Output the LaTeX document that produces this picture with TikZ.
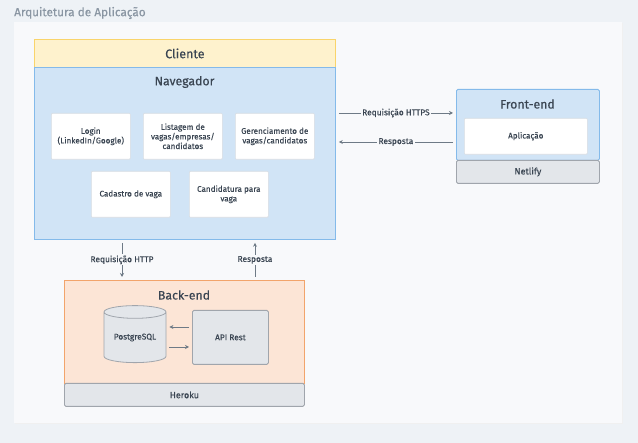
\documentclass[tikz,border=0pt]{standalone}
\usepackage{fontspec}
\setmainfont{Fira Sans}[FakeBold=0.35]
\usetikzlibrary{shapes.geometric,arrows.meta,calc}
\definecolor{bgout}{HTML}{EEF2F6}
\definecolor{panel}{HTML}{F8F9FB}
\definecolor{clifill}{HTML}{FEF2CD}
\definecolor{clidraw}{HTML}{F9D46B}
\definecolor{navfill}{HTML}{D1E4F6}
\definecolor{navdraw}{HTML}{84BAEA}
\definecolor{wdraw}{HTML}{D8DDE3}
\definecolor{gfill}{HTML}{E3E6EA}
\definecolor{gdraw}{HTML}{A0A5AC}
\definecolor{befill}{HTML}{FCE5D6}
\definecolor{bedraw}{HTML}{F2A46B}
\definecolor{txt}{HTML}{3A4552}
\definecolor{arrc}{HTML}{6E7A86}
\definecolor{ttl}{HTML}{8A96A3}
\begin{document}
\begin{tikzpicture}[x=1pt,y=-1pt,
  box/.style={rectangle, anchor=north west, inner sep=0pt, line width=0.8pt, text=txt},
  clibox/.style={box, draw=clidraw, fill=clifill, font=\fontsize{12.5}{14}\selectfont},
  bluebox/.style={box, draw=navdraw, fill=navfill},
  graybox/.style={box, draw=gdraw, fill=gfill, rounded corners=1.5pt, font=\fontsize{9}{10}\selectfont},
  orangebox/.style={box, draw=bedraw, fill=befill},
  wbox/.style={box, draw=wdraw, fill=white, rounded corners=1pt, line width=0.6pt, align=center, minimum width=79, minimum height=46, font=\fontsize{8.1}{9.6}\selectfont},
  heading/.style={text=txt, font=\fontsize{12.3}{14}\selectfont},
  arr/.style={draw=arrc, line width=0.8pt, -{Stealth[length=4pt,width=4pt]}},
  lbl/.style={fill=panel, text=txt, inner sep=1.2pt, font=\fontsize{8.4}{9}\selectfont}
]
\useasboundingbox (0,0) rectangle (638,443);
\fill[bgout] (0,0) rectangle (638,443);
\fill[black!6] (15,23) rectangle (623,424);
\fill[panel] (14,22) rectangle (622,423);
\node[anchor=west, text=ttl, inner sep=0pt, font=\fontsize{11.8}{13}\selectfont] (title) at (14,13) {Arquitetura de Aplicação};

% Cliente / Navegador
\node[clibox, minimum width=301, minimum height=28] (cli) at (34,39) {Cliente};
\node[bluebox, minimum width=301, minimum height=172] (nav) at (34,67) {};
\node[heading] (navt) at (184.5,82) {Navegador};
\node[wbox] (login) at (51,113) {Login\\(LinkedIn/Google)};
\node[wbox] (list) at (143,113) {Listagem de\\vagas/empresas/\\candidatos};
\node[wbox] (ger) at (235,113) {Gerenciamento de\\vagas/candidatos};
\node[wbox] (cad) at (91,171) {Cadastro de vaga};
\node[wbox] (cand) at (189,171) {Candidatura para\\vaga};

% Front-end
\node[bluebox, rounded corners=1.5pt, minimum width=143, minimum height=71] (fe) at (456,89) {};
\node[heading] (fet) at (527.5,104) {Front-end};
\node[wbox, minimum width=123, minimum height=36] (app) at (464,118) {Aplicação};
\node[graybox, minimum width=143, minimum height=23] (net) at (456,160) {Netlify};

\draw[arr] (nav.east |- 0,113) ++(3,0) -- ($(fe.west |- 0,113)+(-3,0)$) node[lbl, midway] {Requisição HTTPS};
\draw[arr] ($(fe.west |- 0,142)+(-3,0)$) -- ($(nav.east |- 0,142)+(3,0)$) node[lbl, midway] {Resposta};

% Back-end
\node[orangebox, minimum width=240, minimum height=103] (be) at (64,280) {};
\node[heading] (bet) at (184,295) {Back-end};
\node[graybox, minimum width=240, minimum height=23] (her) at (64,383) {Heroku};
\node[cylinder, shape border rotate=90, aspect=0.3, draw=gdraw, fill=gfill, line width=0.8pt, minimum width=62, minimum height=57, inner sep=0pt, text=txt, font=\fontsize{8.3}{9}\selectfont] (db) at (135,337.5) {PostgreSQL};
\node[graybox, minimum width=76, minimum height=54, font=\fontsize{8.3}{9}\selectfont] (api) at (192,310) {API Rest};
\draw[arr] ($(api.west |- 0,327)+(-3,0)$) -- ($(db.east |- 0,327)+(3,0)$);
\draw[arr] ($(db.east |- 0,347)+(3,0)$) -- ($(api.west |- 0,347)+(-3,0)$);

\draw[arr] ($(nav.south -| 122,0)+(0,3)$) -- ($(be.north -| 122,0)+(0,-3)$) node[lbl, midway] {Requisição HTTP};
\draw[arr] ($(be.north -| 255,0)+(0,-3)$) -- ($(nav.south -| 255,0)+(0,3)$) node[lbl, midway] {Resposta};
\end{tikzpicture}
\end{document}
